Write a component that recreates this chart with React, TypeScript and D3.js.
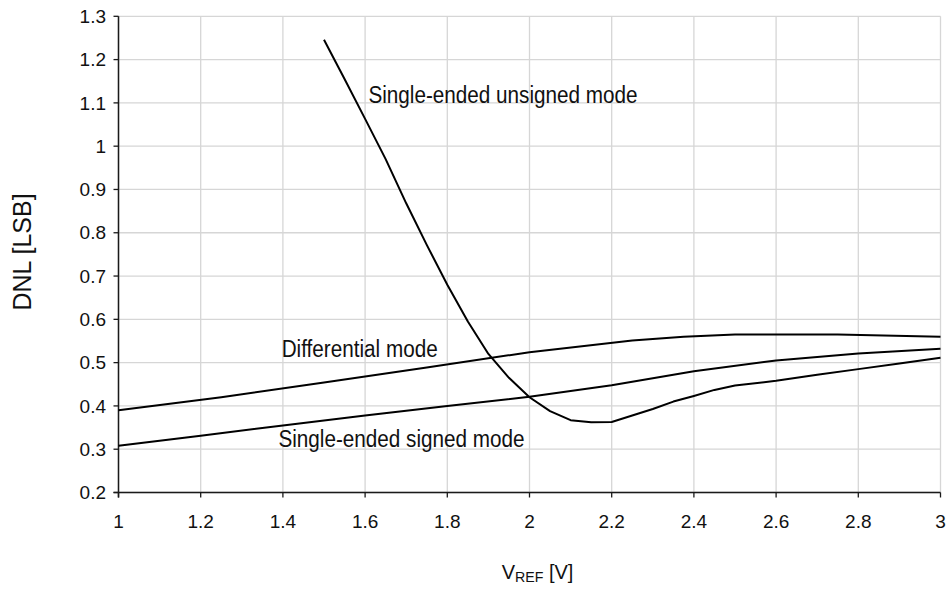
import React from "react";
import * as d3 from "d3";

const xTicks = [1, 1.2, 1.4, 1.6, 1.8, 2, 2.2, 2.4, 2.6, 2.8, 3];
const xTickLabels = ["1", "1.2", "1.4", "1.6", "1.8", "2", "2.2", "2.4", "2.6", "2.8", "3"];
const yTicks = [0.2, 0.3, 0.4, 0.5, 0.6, 0.7, 0.8, 0.9, 1.0, 1.1, 1.2, 1.3];
const yTickLabels = ["0.2", "0.3", "0.4", "0.5", "0.6", "0.7", "0.8", "0.9", "1", "1.1", "1.2", "1.3"];

const diffV = [1, 1.25, 1.5, 1.75, 2, 2.25, 2.375, 2.5, 2.75, 3];
const diffDNL = [0.39, 0.42, 0.454, 0.489, 0.524, 0.551, 0.56, 0.565, 0.565, 0.56];

const signedV = [1, 1.2, 1.4, 1.6, 1.8, 2, 2.2, 2.4, 2.6, 2.8, 3];
const signedDNL = [0.308, 0.331, 0.355, 0.378, 0.4, 0.421, 0.448, 0.48, 0.505, 0.521, 0.532];

const unsignedV = [1.5, 1.55, 1.6, 1.65, 1.7, 1.75, 1.8, 1.85, 1.9, 1.95, 2, 2.05, 2.1, 2.15, 2.2, 2.25, 2.3, 2.35, 2.4, 2.45, 2.5, 2.6, 2.7, 2.8, 2.9, 3];
const unsignedDNL = [1.246, 1.155, 1.063, 0.97, 0.868, 0.772, 0.68, 0.595, 0.52, 0.465, 0.42, 0.388, 0.367, 0.362, 0.363, 0.378, 0.393, 0.41, 0.423, 0.437, 0.447, 0.458, 0.472, 0.485, 0.498, 0.511];

const annotations = [
  { text: "Single-ended unsigned mode", v: 1.608, d: 1.1 },
  { text: "Differential mode", v: 1.397, d: 0.513 },
  { text: "Single-ended signed mode", v: 1.389, d: 0.306 },
];

export default function App() {
  const W = 946, H = 594;
  const x = d3.scaleLinear().domain([1, 3]).range([118.5, 940.5]);
  const y = d3.scaleLinear().domain([0.2, 1.3]).range([492.5, 16.3]);
  const line = d3.line<[number, number]>().x((p) => x(p[0])).y((p) => y(p[1]));
  const series = [
    d3.zip(diffV, diffDNL) as [number, number][],
    d3.zip(signedV, signedDNL) as [number, number][],
    d3.zip(unsignedV, unsignedDNL) as [number, number][],
  ];
  const font = "'Liberation Sans', Arial, Helvetica, sans-serif";
  const x0 = x(1), x1 = x(3), y0 = y(0.2), y1 = y(1.3);
  return (
    <svg width={W} height={H} style={{ position: "absolute", left: 0, top: 0, background: "#fff" }} fontFamily={font}>
      <rect width={W} height={H} fill="#fff" />
      {yTicks.map((t) => (
        <line key={"gy" + t} x1={x0} x2={x1} y1={y(t)} y2={y(t)} stroke="#d6d6d6" strokeWidth={1.3} />
      ))}
      {xTicks.map((t) => (
        <line key={"gx" + t} x1={x(t)} x2={x(t)} y1={y0} y2={y1} stroke="#d6d6d6" strokeWidth={1.3} />
      ))}
      <line x1={x0} x2={x0} y1={y0 + 5} y2={y1} stroke="#1a1a1a" strokeWidth={1.5} />
      <line x1={x0 - 5} x2={x1} y1={y0} y2={y0} stroke="#1a1a1a" strokeWidth={1.5} />
      {yTicks.map((t, i) => (
        <g key={"ty" + t}>
          <line x1={x0 - 5} x2={x0} y1={y(t)} y2={y(t)} stroke="#1a1a1a" strokeWidth={1.3} />
          <text x={106} y={y(t) + 6.7} fontSize={19} textAnchor="end" fill="#111">{yTickLabels[i]}</text>
        </g>
      ))}
      {xTicks.map((t, i) => (
        <g key={"tx" + t}>
          <line x1={x(t)} x2={x(t)} y1={y0} y2={y0 + 5} stroke="#1a1a1a" strokeWidth={1.3} />
          <text x={x(t)} y={528} fontSize={19} textAnchor="middle" fill="#111">{xTickLabels[i]}</text>
        </g>
      ))}
      {series.map((s, i) => (
        <path key={"s" + i} d={line(s) || ""} fill="none" stroke="#000" strokeWidth={2} strokeLinejoin="round" />
      ))}
      {annotations.map((a) => (
        <text key={a.text} transform={`translate(${x(a.v)},${y(a.d)}) scale(0.845,1)`} fontSize={24.5} fill="#111">{a.text}</text>
      ))}
      <text transform="translate(30.5,252) rotate(-90)" fontSize={25} textAnchor="middle" fill="#111">DNL [LSB]</text>
      <text x={501.7} y={579.3} fontSize={20} fill="#111">
        V<tspan fontSize={14.2} dy={2.5}>REF</tspan><tspan dy={-2.5}> [V]</tspan>
      </text>
    </svg>
  );
}
